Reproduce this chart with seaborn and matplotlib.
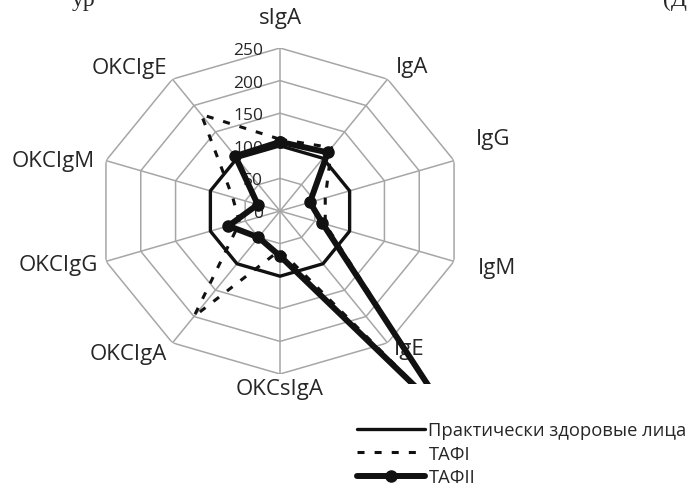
import numpy as np
import matplotlib
matplotlib.use('Agg')
import matplotlib.pyplot as plt
import seaborn as sns
from matplotlib.patches import Rectangle
from matplotlib.lines import Line2D

categories = ['sIgA', 'IgA', 'IgG', 'IgM', 'IgE',
              'OKCsIgA', 'OKCIgA', 'OKCIgG', 'OKCIgM', 'OKCIgE']
healthy = [100, 100, 100, 100, 100, 100, 100, 100, 100, 100]
taf1 = [110, 120, 65, 65, 400, 60, 200, 58, 68, 183]
taf2 = [106, 111, 43, 61, 400, 69, 50, 74, 32, 104]
series_names = ['Практически здоровые лица', 'ТАФI', 'ТАФII']
r_ticks = [0, 50, 100, 150, 200, 250]

sns.set_style('white')
plt.rcParams['font.family'] = ['Open Sans', 'DejaVu Sans']

grid_col = '#a6a6a6'
line_col = '#111111'
text_col = '#262626'

fig = plt.figure(figsize=(6.94, 4.89), dpi=100)
ax = fig.add_axes([97 / 694, 1 - 375 / 489, 366 / 694, 326 / 489], projection='polar')
ax.set_aspect('auto')
ax.set_theta_offset(np.pi / 2)
ax.set_theta_direction(-1)
ax.set_ylim(0, 250)
ax.grid(False)
ax.spines['polar'].set_visible(False)
ax.set_xticks([])
ax.set_yticks([])
ax.patch.set_alpha(0)

n = len(categories)
angles = np.linspace(0, 2 * np.pi, n, endpoint=False)
closed = np.append(angles, angles[0])

# polygonal grid like excel
for lev in r_ticks[1:]:
    ax.plot(closed, [lev] * (n + 1), color=grid_col, lw=1.1, zorder=1)
for a in angles:
    ax.plot([a, a], [0, r_ticks[-1]], color=grid_col, lw=1.1, zorder=1)

for v in r_ticks:
    ax.annotate(str(v), xy=(0, v), xytext=(-17, -2), textcoords='offset pixels',
                ha='right', va='center', fontsize=12.5, color=text_col, zorder=2)

label_offsets = [(0, 31, 'center'), (8, 13, 'left'), (22, 22, 'left'), (24, -6, 'left'),
                 (6, -6, 'left'), (0, -15, 'center'), (-5, -11, 'right'),
                 (-8, -3, 'right'), (-11, 0, 'right'), (-5, 12, 'right')]
for a, lab, (dx, dy, ha) in zip(angles, categories, label_offsets):
    ax.annotate(lab, xy=(a, r_ticks[-1]), xytext=(dx, dy), textcoords='offset pixels',
                ha=ha, va='center', fontsize=16, color=text_col, annotation_clip=False)

clip = Rectangle((0, 1 - 385 / 489), 1, 385 / 489, transform=fig.transFigure)

dash = (0, (2.3, 3.3))
l1, = ax.plot(closed, healthy + healthy[:1], color=line_col, lw=2.4, zorder=3)
l2, = ax.plot(closed, taf1 + taf1[:1], color=line_col, lw=2.2, ls=dash, zorder=4)
l3, = ax.plot(closed, taf2 + taf2[:1], color=line_col, lw=4.3, marker='o', ms=8, zorder=5)
for ln in (l1, l2, l3):
    ln.set_clip_path(clip)

handles = [Line2D([], [], color=line_col, lw=2.4),
           Line2D([], [], color=line_col, lw=2.2, ls=dash),
           Line2D([], [], color=line_col, lw=4.3, marker='o', ms=8)]
fig.legend(handles, series_names, loc='upper left', bbox_to_anchor=(357 / 694, 1 - 422 / 489),
           frameon=False, fontsize=13.2, handlelength=3.7, handletextpad=0.2,
           labelspacing=0.3, borderpad=0, borderaxespad=0, labelcolor=text_col)

fig.text(72 / 694, 1 - 6 / 489, 'ур', fontsize=17, family='Liberation Serif', va='baseline')
fig.text(663 / 694, 1 - 6 / 489, '(Д', fontsize=17, family='Liberation Serif', va='baseline')

fig.savefig('out.png', dpi=100)
